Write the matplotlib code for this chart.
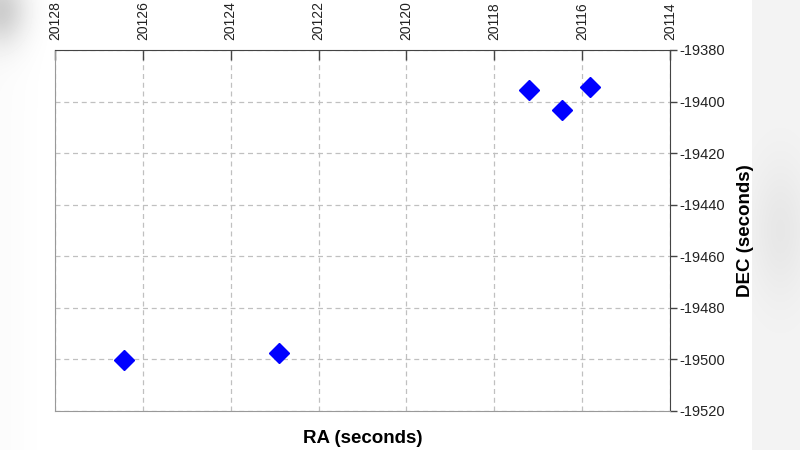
import matplotlib
matplotlib.use("Agg")
import numpy as np
import matplotlib.pyplot as plt

plt.rcParams['font.family'] = ['Liberation Sans', 'DejaVu Sans']

# measured positions (seconds)
ra = [20126.42, 20122.89, 20117.21, 20116.45, 20115.81]
dec = [-19500.2, -19497.5, -19395.5, -19403.3, -19394.2]

x_ticks = [20128, 20126, 20124, 20122, 20120, 20118, 20116, 20114]
y_ticks = [-19380, -19400, -19420, -19440, -19460, -19480, -19500, -19520]

fig = plt.figure(figsize=(8, 4.5), dpi=100)

# soft grey screenshot edges behind the chart
H, W = 450, 800
yy, xx = np.mgrid[0:H, 0:W]
bg = np.ones((H, W))
right = xx >= 752
bg[right] = 0.955 - 0.05 * np.exp(-((yy[right] - 230) / 70.0) ** 2 - ((xx[right] - 780) / 30.0) ** 2)
left = xx < 50
bg[left] = 0.985 - 0.18 * np.exp(-(xx[left] / 26.0) ** 2 - ((yy[left] - 10) / 34.0) ** 2) \
    + 0.015 * (xx[left] / 50.0)
bg_ax = fig.add_axes([0, 0, 1, 1], zorder=-10)
bg_ax.imshow(bg, cmap='gray', vmin=0, vmax=1, aspect='auto', interpolation='bilinear')
bg_ax.axis('off')

ax = fig.add_axes([0.06875, 0.0867, 0.76875, 0.8022])
ax.set_facecolor('white')

ax.plot(ra, dec, linestyle='none', marker='D', markersize=9.7,
        color='#0000ff', markeredgecolor='#0000ff', zorder=3)

ax.set_xlim(20128, 20114)
ax.set_ylim(-19520, -19380)
ax.set_xticks(x_ticks)
ax.set_yticks(y_ticks)
ax.set_xticklabels([str(v) for v in x_ticks], rotation=90, fontsize=10, color='#222222')
ax.set_yticklabels([str(v) for v in y_ticks], fontsize=10.5, color='#222222')

ax.xaxis.tick_top()
ax.yaxis.tick_right()
ax.tick_params(axis='x', direction='in', length=7, width=1, color='#444444', pad=7)
ax.tick_params(axis='y', direction='out', length=5, width=1, color='#444444', pad=2)

ax.grid(True, linestyle=(0, (4, 3)), color='#c0c0c0', linewidth=0.9)

ax.spines['top'].set_color('#444444')
ax.spines['right'].set_color('#444444')
ax.spines['left'].set_color('#999999')
ax.spines['bottom'].set_color('#999999')

ax.set_xlabel('RA (seconds)', fontsize=13.5, fontweight='bold')
ax.xaxis.set_label_position('bottom')
ax.xaxis.labelpad = 14
ax.set_ylabel('DEC (seconds)', fontsize=13.5, fontweight='bold')
ax.yaxis.set_label_position('right')
ax.yaxis.labelpad = 8

fig.savefig('out.png', dpi=100)
